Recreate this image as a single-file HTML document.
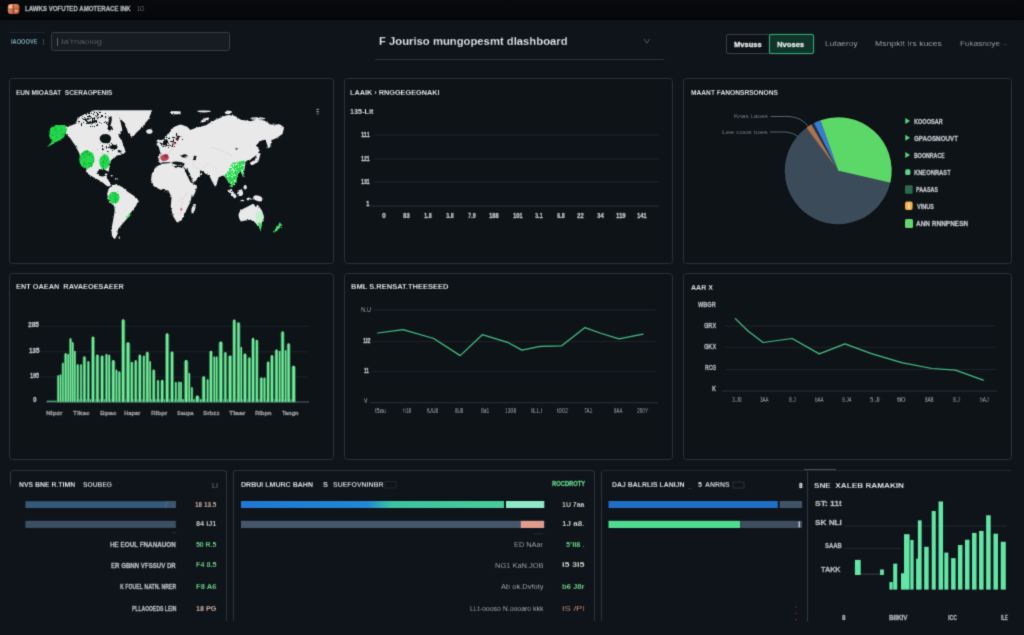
<!DOCTYPE html>
<html lang="en"><head><meta charset="utf-8"><title>Dashboard</title>
<style>
html,body{margin:0;padding:0;background:#0f141a;}
body{width:1024px;height:635px;overflow:hidden;font-family:"Liberation Sans",sans-serif;}
#root{position:relative;width:1024px;height:635px;overflow:hidden;background:#0f141a;}
#soft{background:#0f141a;position:absolute;left:-4px;top:-4px;width:1032px;height:643px;filter:url(#softblur);}
.abs{position:absolute;}
.t{position:absolute;white-space:pre;line-height:1;transform-origin:0 50%;font-family:"Liberation Sans",sans-serif;}
#topbar{position:absolute;left:0;top:0;width:1024px;height:20px;background:linear-gradient(#07090c,#06080b 80%,#040508);}
.panel{position:absolute;box-sizing:border-box;border:1px solid #29313a;border-radius:3.5px;background:#0e1318;}
.hl{position:absolute;height:1px;background:#20252c;}
.vl{position:absolute;width:1px;background:#2a2f37;}
.bar{position:absolute;height:7px;}
svg{position:absolute;left:0;top:0;overflow:visible;}

#in{position:absolute;left:4px;top:4px;width:1024px;height:635px;}
#texts{position:absolute;left:0;top:0;width:1024px;height:635px;filter:url(#softblur);}

</style></head>
<body>
<svg width="0" height="0" style="position:absolute"><defs><filter id="softblur" x="0" y="0" width="100%" height="100%" color-interpolation-filters="sRGB"><feConvolveMatrix order="3" kernelMatrix="0.0196 0.1008 0.0196 0.1008 0.5184 0.1008 0.0196 0.1008 0.0196" divisor="1" edgeMode="duplicate" preserveAlpha="true"/></filter></defs></svg>
<div id="root"><div id="soft"><div id="in">
<div id="topbar"></div>
<!-- logo -->
<svg width="1024" height="635" viewBox="0 0 1024 635" id="chrome">
  <defs>
    <linearGradient id="lg1" x1="0" y1="0" x2="1" y2="1"><stop offset="0" stop-color="#e9a884"/><stop offset="1" stop-color="#b8431e"/></linearGradient>
  </defs>
  <rect x="7.8" y="4" width="11.6" height="10" rx="3" fill="url(#lg1)"/>
  <rect x="12.9" y="4.6" width="1" height="8.8" fill="#6a2010" opacity=".6"/><circle cx="10.6" cy="7" r="1.7" fill="#f6d2b6" opacity=".8"/><circle cx="16.3" cy="10.8" r="1.6" fill="#f3c4a4" opacity=".7"/>
  <rect x="8.4" y="8.6" width="10.4" height="0.9" fill="#8a2c18" opacity=".45"/>
</svg>
<!-- header -->
<div class="abs" style="left:43px;top:39.3px;width:1px;height:5.6px;background:#3a424a;"></div>
<div class="abs" style="left:8.6px;top:32px;width:36.4px;height:1px;background:#1c242c;"></div>
<div class="abs" style="left:51px;top:31.5px;width:179px;height:19.5px;box-sizing:border-box;border:1px solid #343c44;border-radius:2.5px;background:#171c22;"></div>
<div class="abs" style="left:56.5px;top:37.5px;width:1px;height:8.5px;background:#5d636c;"></div>
<div class="abs" style="left:374.5px;top:58.7px;width:289.5px;height:1px;background:#2c3138;"></div>
<svg width="1024" height="635" viewBox="0 0 1024 635"><path d="M644.2 38.8 L646.9 43.2 L649.6 38.8" fill="none" stroke="#4d535b" stroke-width="1"/></svg>
<div class="abs" style="left:726px;top:33.5px;width:87.5px;height:20.5px;box-sizing:border-box;border:1px solid #3a4048;border-radius:2px;background:#0e1217;"></div>
<div class="abs" style="left:769px;top:33.5px;width:44.5px;height:20.5px;box-sizing:border-box;border:1px solid #2fa871;border-radius:2px;background:#11342a;box-shadow:0 0 2px #2fa87166;"></div>
<div class="abs" style="left:1003px;top:43.5px;width:4px;height:1px;background:#2a2f37;"></div>

<!-- panels row 1 -->
<div class="panel" style="left:9px;top:78px;width:324.5px;height:185.5px;"></div>
<div class="panel" style="left:343.5px;top:78px;width:329.5px;height:185.5px;"></div>
<div class="panel" style="left:683px;top:78px;width:329px;height:185.5px;"></div>
<!-- panels row 2 -->
<div class="panel" style="left:9px;top:272.6px;width:324.5px;height:187px;"></div>
<div class="panel" style="left:343.5px;top:272.6px;width:329.5px;height:187px;"></div>
<div class="panel" style="left:683px;top:272.6px;width:329px;height:187px;"></div>
<!-- row 3 -->
<div class="abs" style="left:10px;top:470.2px;width:216.7px;height:151px;box-sizing:border-box;border:1px solid #29313a;border-bottom:none;border-left:none;border-radius:3px 3px 0 0;background:transparent;"></div>
<div class="abs" style="left:10px;top:472px;width:1px;height:16px;background:linear-gradient(#333942,#333942 60%,rgba(51,57,66,0));"></div>
<div class="abs" style="left:233px;top:470.2px;width:361.5px;height:151px;box-sizing:border-box;border:1px solid #29313a;border-bottom:none;border-radius:3px 3px 0 0;background:transparent;"></div>
<div class="abs" style="left:600.5px;top:470.2px;width:410px;height:151px;box-sizing:border-box;border-top:1px solid #1f262e;border-left:1px solid #29313a;border-radius:3px 0 0 0;background:transparent;"></div>
<div class="abs" style="left:807px;top:471px;width:1px;height:150.5px;background:#2f353d;"></div>
<div class="abs" style="left:804px;top:469px;width:32px;height:1.4px;background:#4a5058;border-radius:1px;"></div>

<svg width="1024" height="635" viewBox="0 0 1024 635" id="map">
<defs><filter id="rough" x="-5%" y="-5%" width="110%" height="110%"><feTurbulence type="fractalNoise" baseFrequency="0.55" numOctaves="2" seed="7" result="n"/><feDisplacementMap in="SourceGraphic" in2="n" scale="2.6" xChannelSelector="R" yChannelSelector="G"/></filter>
<filter id="speck" x="0" y="0" width="100%" height="100%"><feTurbulence type="fractalNoise" baseFrequency="0.9" numOctaves="1" seed="3" result="n"/><feColorMatrix in="n" type="matrix" values="0 0 0 0 0  0 0 0 0 0  0 0 0 0 0  0 0 0 -20 8.6" result="a"/><feComposite in="SourceGraphic" in2="a" operator="in"/></filter>
<filter id="speck2" x="0" y="0" width="100%" height="100%"><feTurbulence type="fractalNoise" baseFrequency="0.8" numOctaves="1" seed="11" result="n"/><feColorMatrix in="n" type="matrix" values="0 0 0 0 0  0 0 0 0 0  0 0 0 0 0  0 0 0 -20 7.7" result="a"/><feComposite in="SourceGraphic" in2="a" operator="in"/></filter>
<clipPath id="mapclip"><rect x="40" y="110.2" width="260" height="140"/></clipPath></defs>
<g clip-path="url(#mapclip)"><g filter="url(#rough)">
<path d="M66.0 127.6 L76.2 123.6 L77.8 117.3 L87.2 113.4 L95.1 109.4 L114.0 109.4 L109.3 114.2 L114.0 117.3 L118.7 123.6 L120.3 131.5 L118.7 136.2 L121.9 140.9 L125.8 152.0 L121.9 154.3 L115.6 155.9 L110.9 160.6 L109.6 166.1 L108.7 171.8 L106.3 170.4 L105.5 175.6 L108.0 179.5 L110.9 184.3 L109.6 186.5 L106.1 185.0 L101.4 181.1 L95.1 177.2 L88.8 172.4 L85.7 167.7 L80.9 161.4 L79.4 153.5 L75.4 145.7 L69.9 137.8 L66.0 133.9 Z" fill="#e9e9ea" />
<path d="M107.9 109.5 L115.8 109.8 L120.2 120.1 L122.4 130.2 L119.2 134.0 L115.0 126.0 L110.0 118.0 Z" fill="#e9e9ea" />
<path d="M114.8 108.7 L152.6 108.7 L148.7 118.9 L142.4 126.8 L136.1 133.1 L132.1 137.8 L128.2 133.1 L125.0 123.6 L118.7 117.3 Z" fill="#e9e9ea" />
<ellipse cx="149.4" cy="131.5" rx="2.8" ry="1.9" fill="#e9e9ea" />
<ellipse cx="175.4" cy="112.6" rx="4.7" ry="1.4" fill="#e9e9ea" />
<ellipse cx="105.4" cy="138.6" rx="5.7" ry="4.7" fill="#0e1217" />
<ellipse cx="110.1" cy="128.3" rx="2.5" ry="2.2" fill="#0e1217" />
<ellipse cx="102.2" cy="172.8" rx="4.7" ry="3.8" fill="#0e1217" />
<ellipse cx="119.5" cy="151.2" rx="2.2" ry="1.3" fill="#0e1217" />
<ellipse cx="92.0" cy="122.0" rx="6.3" ry="1.3" fill="#0e1217" transform="rotate(-15 92.0 122.0)" />
<ellipse cx="87.2" cy="118.9" rx="3.9" ry="0.9" fill="#0e1217" transform="rotate(-10 87.2 118.9)" />
<ellipse cx="109.9" cy="122" rx="1.5" ry="6" fill="#0e1217" transform="rotate(12 109.9 122)"/>
<ellipse cx="113.5" cy="147" rx="4" ry="2.2" fill="#0e1217"/>
<path d="M50.2 128.3 L55.7 124.9 L65.2 124.9 L67.1 129.9 L63.6 137.8 L55.7 142.5 L47.1 146.9 L52.6 140.9 L49.1 136.2 Z" fill="#25d94e" />
<ellipse cx="86.9" cy="159.5" rx="7.6" ry="9.1" fill="#25d94e" />
<ellipse cx="104.6" cy="161.7" rx="5.2" ry="7.4" fill="#25d94e" />
<ellipse cx="85.7" cy="152.0" rx="2.2" ry="1.6" fill="#14b83a" />
<path d="M85.7 170.2 L90.4 167.9 L95.1 171.8 L97.5 175.7 L103.0 177.3 L107.7 181.3 L110.9 184.9 L107.7 186.5 L103.0 182.8 L98.3 179.7 L92.0 176.5 L87.2 173.4 Z" fill="#e9e9ea" />
<ellipse cx="106.1" cy="174.5" rx="1.4" ry="1.1" fill="#e9e9ea" />
<ellipse cx="116.4" cy="178.9" rx="1.4" ry="0.9" fill="#e9e9ea" />
<ellipse cx="111.7" cy="175.7" rx="1.1" ry="0.8" fill="#e9e9ea" />
<path d="M107.7 191.5 L110.9 186.0 L115.6 184.4 L121.9 186.8 L127.4 191.5 L134.5 196.2 L138.4 200.2 L136.1 205.7 L131.3 212.0 L127.4 218.3 L121.9 224.6 L118.0 229.3 L116.9 235.6 L114.8 239.2 L111.7 235.6 L111.7 227.7 L113.2 219.8 L114.8 210.4 L114.0 205.7 L109.3 201.7 L107.4 196.2 Z" fill="#e9e9ea" />
<ellipse cx="114.0" cy="197.8" rx="5.5" ry="6.0" fill="#25d94e" />
<path d="M125.8 217.0 L130.9 211.7 L130.1 216.1 L126.6 218.9 Z" fill="#5fe07e" />
<ellipse cx="119.2" cy="237.5" rx="0.5" ry="1.3" fill="#e9e9ea" />
<path d="M158.1 157.5 L160.5 153.5 L158.9 147.2 L156.5 144.1 L158.9 140.2 L163.6 139.4 L169.1 133.1 L173.9 126.8 L180.9 124.4 L187.2 126.8 L190.4 129.9 L196.7 127.6 L206.1 125.2 L210.9 122.0 L217.2 118.9 L223.5 116.5 L228.2 115.0 L234.5 115.7 L240.8 119.7 L250.2 121.3 L256.5 119.7 L264.4 120.5 L270.7 124.4 L280.2 124.4 L284.1 127.6 L282.5 133.9 L277.0 137.8 L271.5 140.2 L269.1 147.2 L266.8 144.1 L266.0 139.4 L259.7 140.9 L256.5 145.7 L259.7 150.4 L256.5 155.1 L250.2 159.8 L245.5 161.4 L244.7 167.7 L243.1 177.2 L240.8 170.9 L237.6 174.0 L234.5 185.0 L231.3 187.4 L226.6 178.7 L223.5 175.6 L218.7 177.2 L215.6 187.4 L212.4 181.9 L209.3 175.6 L203.0 172.4 L198.3 177.2 L194.3 182.7 L192.0 181.9 L188.8 175.6 L185.7 169.3 L182.5 165.4 L173.9 166.1 L169.9 162.2 L163.6 162.2 L159.7 163.0 Z" fill="#e9e9ea" />
<ellipse cx="175.4" cy="112.9" rx="5.5" ry="1.4" fill="#e9e9ea" />
<ellipse cx="203.8" cy="111.3" rx="7.1" ry="1.1" fill="#e9e9ea" />
<ellipse cx="204.6" cy="120.2" rx="5.0" ry="1.4" fill="#e9e9ea" transform="rotate(-25 204.6 120.2)" />
<ellipse cx="228.2" cy="112.3" rx="3.5" ry="1.9" fill="#e9e9ea" />
<ellipse cx="257.3" cy="118.6" rx="7.1" ry="1.4" fill="#e9e9ea" />
<ellipse cx="149.4" cy="131.5" rx="3.1" ry="2.2" fill="#e9e9ea" />
<path d="M257.3 152.8 L260.6 153.5 L258.4 161.4 L252.1 165.5 L249.3 163.0 L255.0 159.8 Z" fill="#e9e9ea" />
<path d="M267.6 139.4 L271.7 138.6 L270.1 147.2 L267.6 148.2 Z" fill="#e9e9ea" />
<ellipse cx="158.6" cy="141.7" rx="1.9" ry="2.2" fill="#e9e9ea" />
<path d="M151.8 174.0 L155.7 166.9 L162.0 163.8 L170.7 163.0 L175.4 167.7 L183.3 166.9 L186.5 174.0 L190.4 181.9 L197.0 185.8 L195.4 192.1 L192.8 197.6 L192.0 194.2 L190.4 202.0 L185.7 211.5 L181.7 220.2 L177.0 222.5 L173.1 216.2 L170.7 206.8 L171.5 197.3 L168.3 190.6 L160.5 189.8 L154.2 186.6 L151.0 180.3 Z" fill="#e9e9ea" />
<ellipse cx="193.5" cy="208.7" rx="1.7" ry="4.7" fill="#e9e9ea" transform="rotate(15 193.5 208.7)" />
<ellipse cx="178.6" cy="163.5" rx="6.6" ry="1.7" fill="#0e1217" transform="rotate(8 178.6 163.5)" />
<ellipse cx="184.4" cy="155.9" rx="3.1" ry="1.7" fill="#0e1217" />
<ellipse cx="194.8" cy="158.0" rx="1.3" ry="2.5" fill="#0e1217" />
<path d="M184.9 169.3 L187.2 168.5 L192.8 181.1 L191.2 182.7 Z" fill="#0e1217" />
<ellipse cx="202.2" cy="172.1" rx="2.8" ry="0.9" fill="#0e1217" transform="rotate(30 202.2 172.1)" />
<ellipse cx="165.2" cy="142.5" rx="2.2" ry="3.5" fill="#0e1217" transform="rotate(35 165.2 142.5)" />
<ellipse cx="177.5" cy="137.8" rx="1.6" ry="2.5" fill="#0e1217" transform="rotate(30 177.5 137.8)" />
<ellipse cx="236.9" cy="149.1" rx="1.6" ry="0.8" fill="#3a2a30" />
<path d="M227.4 190.2 L230.6 189.1 L237.3 196.5 L234.5 198.6 Z" fill="#e9e9ea" />
<ellipse cx="240.3" cy="192.9" rx="2.7" ry="3.1" fill="#e9e9ea" />
<ellipse cx="245.2" cy="187.2" rx="1.6" ry="2.2" fill="#e9e9ea" />
<ellipse cx="248.7" cy="198.9" rx="2.2" ry="1.4" fill="#e9e9ea" />
<ellipse cx="257.8" cy="198.3" rx="4.7" ry="2.7" fill="#e9e9ea" transform="rotate(20 257.8 198.3)" />
<ellipse cx="242.4" cy="200.5" rx="1.9" ry="0.8" fill="#e9e9ea" />
<path d="M238.4 213.9 L240.8 209.9 L248.7 206.0 L253.4 203.6 L255.7 207.1 L258.1 205.2 L262.0 210.7 L264.1 217.0 L261.6 223.3 L260.6 229.6 L258.1 226.0 L255.0 222.5 L250.2 219.4 L245.5 220.6 L240.8 221.6 L238.9 217.8 Z" fill="#e9e9ea" />
<path d="M255.7 211.5 L261.3 211.5 L264.1 217.0 L261.6 223.3 L260.9 230.1 L258.4 226.5 L255.7 221.7 Z" fill="#c4f0cd" />
<path d="M258.1 222.5 L261.6 223.3 L260.9 230.1 L258.4 226.5 Z" fill="#3ddb62" />
<path d="M279.8 222.2 L282.0 225.4 L277.3 230.4 L273.5 232.9 L275.4 228.8 L278.3 225.0 Z" fill="#4fe070" />
<path d="M232.1 163.0 L244.7 160.6 L243.9 167.7 L243.1 177.2 L240.8 170.9 L238.4 173.2 L235.3 184.3 L231.3 187.4 L227.4 179.5 L224.3 175.6 L229.0 170.9 L230.6 166.1 Z" fill="#25d94e" />
<g filter="url(#speck)">
<ellipse cx="86.9" cy="159.5" rx="7.2" ry="8.8" fill="#0fae35" />
<ellipse cx="104.6" cy="161.7" rx="4.9" ry="7.1" fill="#0fae35" />
<path d="M50.2 128.3 L55.7 124.9 L65.2 124.9 L67.1 129.9 L63.6 137.8 L55.7 142.5 L47.1 146.9 L52.6 140.9 L49.1 136.2 Z" fill="#10b838" />
<ellipse cx="114.0" cy="197.8" rx="5.2" ry="5.7" fill="#0fae35" />
<path d="M232.1 163.0 L244.7 160.6 L243.9 167.7 L243.1 177.2 L240.8 170.9 L238.4 173.2 L235.3 184.3 L231.3 187.4 L227.4 179.5 L224.3 175.6 L229.0 170.9 L230.6 166.1 Z" fill="#d9fbe0" />
</g>
<g filter="url(#speck)">
<ellipse cx="90.4" cy="117.6" rx="16.5" ry="6.0" fill="#0e1217" transform="rotate(-8 90.4 117.6)" />
<ellipse cx="167.6" cy="141.3" rx="8.7" ry="6.0" fill="#0e1217" />
</g>
<g filter="url(#speck2)">
<ellipse cx="92.0" cy="119.7" rx="18.9" ry="7.9" fill="#0e1217" />
<ellipse cx="169.9" cy="140.2" rx="13.4" ry="7.9" fill="#0e1217" />
<ellipse cx="106.1" cy="147.2" rx="9.4" ry="6.3" fill="#0e1217" />
</g>
</g>
<ellipse cx="164.6" cy="157.6" rx="4.3" ry="3.3" fill="#b8283c" transform="rotate(-20 164.6 157.6)" opacity=".85"/>
<ellipse cx="166.0" cy="156.1" rx="1.9" ry="1.6" fill="#8a1f2e" opacity=".7"/>
<ellipse cx="173.4" cy="143.6" rx="1.6" ry="1.7" fill="#b8283c" opacity=".65"/>
<ellipse cx="177.8" cy="138.3" rx="1.3" ry="1.9" fill="#6a1a26" transform="rotate(30 177.8 138.3)" opacity=".8"/>
<ellipse cx="181.3" cy="209.3" rx="0.9" ry="1.4" fill="#b8283c" opacity=".7"/>
<path d="M210.9 147.2 L221.9 150.4 L232.1 155.9" fill="none" stroke="#d0566a" stroke-width="0.5" stroke-dasharray="0.6 1" opacity="0.6"/>
<path d="M192.0 159.8 L194.3 167.7 L201.4 169.3 L207.7 163.0" fill="none" stroke="#d0566a" stroke-width="0.5" stroke-dasharray="0.6 1" opacity="0.6"/>
<path d="M207.7 163.0 L215.6 167.7 L217.2 172.4" fill="none" stroke="#e08a96" stroke-width="0.5" stroke-dasharray="0.6 1" opacity="0.5"/>
<path d="M168.3 153.5 L173.9 147.2 L177.8 142.5" fill="none" stroke="#c0364a" stroke-width="0.6" stroke-dasharray="0.6 1" opacity="0.7"/>
<path d="M187.2 192.6 L183.3 198.9 L181.3 206.8 L180.6 213.9" fill="none" stroke="#d0566a" stroke-width="0.6" stroke-dasharray="0.6 1" opacity="0.7"/>
<path d="M181.3 197.3 L177.8 202.0" fill="none" stroke="#d0566a" stroke-width="0.5" stroke-dasharray="0.6 1" opacity="0.6"/>
</g>
<rect x="316.4" y="108.8" width="2.6" height="1.2" fill="#8b9097"/><rect x="316.4" y="111" width="2.6" height="1.2" fill="#8b9097"/><rect x="316.8" y="113.2" width="2" height="1.2" fill="#6b7077"/>
</svg>
<svg width="1024" height="635" viewBox="0 0 1024 635" id="charts">
<defs>
<linearGradient id="b8" x1="0" y1="0" x2="1" y2="0"><stop offset="0" stop-color="#1f78d2"/><stop offset=".48" stop-color="#2287d4"/><stop offset=".57" stop-color="#3cc3a2"/><stop offset="1" stop-color="#48cc98"/></linearGradient>
</defs>
<rect x="374" y="134.5" width="285" height="1" fill="#1f242b"/>
<rect x="374" y="158.5" width="285" height="1" fill="#1f242b"/>
<rect x="374" y="181.5" width="285" height="1" fill="#1f242b"/>
<rect x="371" y="205.6" width="288" height="1" fill="#2a3038"/>
<circle cx="838.2" cy="170.7" r="54.3" fill="#0a0c10"/>
<path d="M838.20 170.70 L890.33 182.73 A53.5 53.5 0 1 1 806.38 127.69 Z" fill="#3c4b5a"/>
<path d="M838.20 170.70 L806.38 127.69 A53.5 53.5 0 0 1 811.45 124.37 Z" fill="#a9744e"/>
<path d="M838.20 170.70 L811.45 124.37 A53.5 53.5 0 0 1 813.91 123.03 Z" fill="#22344a"/>
<path d="M838.20 170.70 L813.91 123.03 A53.5 53.5 0 0 1 820.34 120.27 Z" fill="#3a7ad6"/>
<path d="M838.20 170.70 L820.34 120.27 A53.5 53.5 0 0 1 890.33 182.73 Z" fill="#5bd868"/>
<path d="M770.7 116.5 H789 Q801 117 808.5 126.6" fill="none" stroke="#646a72" stroke-width="0.9"/>
<path d="M770 132 H786 Q793 132.5 798 136.5" fill="none" stroke="#646a72" stroke-width="0.9"/>
<path d="M905.3 118 L910 121 L905.3 124 Z" fill="#5cd683"/>
<path d="M905.3 134.8 L910 137.8 L905.3 140.8 Z" fill="#5cd683"/>
<path d="M905.3 152 L910 155 L905.3 158 Z" fill="#5cd683"/>
<rect x="905.2" y="169.2" width="5.2" height="5.8" rx="1.6" fill="#5cd683"/>
<rect x="905" y="185.2" width="7.6" height="8.6" rx="1" fill="#2a6b50"/>
<rect x="905" y="201.5" width="7.6" height="8.6" rx="2" fill="#f2b44a"/>
<rect x="908" y="203.3" width="1.6" height="5" fill="#fbe6b8"/>
<rect x="905" y="219" width="8" height="9" rx="1.5" fill="#63d673"/>
<rect x="40" y="325.8" width="268" height="1" fill="#1f242b"/>
<rect x="40" y="351.3" width="268" height="1" fill="#1f242b"/>
<rect x="40" y="376.6" width="268" height="1" fill="#1f242b"/>
<rect x="46" y="401.4" width="263" height="1.2" fill="#4a525c"/>
<rect x="57" y="399.2" width="238.7" height="3" fill="#63dc8e"/>
<rect x="47" y="400.6" width="10" height="1.4" fill="#3f9e68"/>
<rect x="56.81" y="376.28" width="2.76" height="25.62" fill="#246a44"/>
<rect x="59.17" y="375.49" width="2.76" height="26.41" fill="#246a44"/>
<rect x="61.53" y="363.68" width="2.76" height="38.22" fill="#246a44"/>
<rect x="63.89" y="354.23" width="3.55" height="47.67" fill="#246a44"/>
<rect x="67.04" y="355.02" width="2.29" height="46.88" fill="#246a44"/>
<rect x="68.93" y="339.27" width="3.23" height="62.63" fill="#246a44"/>
<rect x="71.45" y="343.21" width="2.60" height="58.69" fill="#246a44"/>
<rect x="73.66" y="351.87" width="2.45" height="50.03" fill="#246a44"/>
<rect x="76.18" y="365.26" width="3.08" height="36.64" fill="#246a44"/>
<rect x="79.64" y="365.26" width="2.76" height="36.64" fill="#246a44"/>
<rect x="82.48" y="357.38" width="3.86" height="44.52" fill="#246a44"/>
<rect x="86.73" y="362.11" width="3.23" height="39.79" fill="#246a44"/>
<rect x="90.98" y="337.70" width="4.02" height="64.20" fill="#246a44"/>
<rect x="95.39" y="355.81" width="4.02" height="46.09" fill="#246a44"/>
<rect x="100.11" y="356.59" width="4.02" height="45.31" fill="#246a44"/>
<rect x="104.84" y="355.02" width="3.23" height="46.88" fill="#246a44"/>
<rect x="107.67" y="355.81" width="3.08" height="46.09" fill="#246a44"/>
<rect x="111.14" y="361.32" width="4.34" height="40.58" fill="#246a44"/>
<rect x="115.08" y="370.77" width="2.76" height="31.13" fill="#246a44"/>
<rect x="117.75" y="372.34" width="3.23" height="29.56" fill="#246a44"/>
<rect x="121.06" y="320.37" width="4.34" height="81.53" fill="#246a44"/>
<rect x="125.63" y="343.52" width="4.81" height="58.38" fill="#246a44"/>
<rect x="130.04" y="362.89" width="3.55" height="39.01" fill="#246a44"/>
<rect x="133.97" y="361.32" width="3.55" height="40.58" fill="#246a44"/>
<rect x="137.91" y="355.81" width="3.86" height="46.09" fill="#246a44"/>
<rect x="142.32" y="356.59" width="3.08" height="45.31" fill="#246a44"/>
<rect x="145.31" y="352.97" width="4.02" height="48.93" fill="#246a44"/>
<rect x="148.93" y="362.11" width="2.29" height="39.79" fill="#246a44"/>
<rect x="151.77" y="370.77" width="3.86" height="31.13" fill="#246a44"/>
<rect x="156.49" y="381.00" width="3.08" height="20.90" fill="#246a44"/>
<rect x="160.43" y="381.00" width="3.08" height="20.90" fill="#246a44"/>
<rect x="160.59" y="381.00" width="3.55" height="20.90" fill="#246a44"/>
<rect x="165.00" y="334.55" width="4.34" height="67.35" fill="#246a44"/>
<rect x="170.04" y="352.66" width="4.02" height="49.24" fill="#246a44"/>
<rect x="174.45" y="382.89" width="2.76" height="19.01" fill="#246a44"/>
<rect x="177.60" y="382.58" width="2.76" height="19.32" fill="#246a44"/>
<rect x="179.96" y="382.89" width="2.29" height="19.01" fill="#246a44"/>
<rect x="183.74" y="361.32" width="4.81" height="40.58" fill="#246a44"/>
<rect x="188.15" y="373.92" width="2.29" height="27.98" fill="#246a44"/>
<rect x="190.51" y="388.09" width="2.76" height="13.81" fill="#246a44"/>
<rect x="194.76" y="396.75" width="5.12" height="5.15" fill="#246a44"/>
<rect x="201.53" y="377.38" width="4.34" height="24.52" fill="#246a44"/>
<rect x="206.26" y="380.22" width="2.76" height="21.68" fill="#246a44"/>
<rect x="208.93" y="351.87" width="4.02" height="50.03" fill="#246a44"/>
<rect x="213.03" y="357.38" width="2.60" height="44.52" fill="#246a44"/>
<rect x="215.23" y="357.38" width="2.92" height="44.52" fill="#246a44"/>
<rect x="218.38" y="342.74" width="4.81" height="59.16" fill="#246a44"/>
<rect x="223.58" y="353.13" width="3.55" height="48.77" fill="#246a44"/>
<rect x="227.83" y="356.59" width="4.49" height="45.31" fill="#246a44"/>
<rect x="232.24" y="320.69" width="4.02" height="81.21" fill="#246a44"/>
<rect x="236.49" y="323.52" width="4.02" height="78.38" fill="#246a44"/>
<rect x="240.11" y="347.93" width="2.29" height="53.97" fill="#246a44"/>
<rect x="242.79" y="354.70" width="4.34" height="47.20" fill="#246a44"/>
<rect x="247.52" y="358.48" width="3.71" height="43.42" fill="#246a44"/>
<rect x="251.14" y="338.96" width="3.86" height="62.94" fill="#246a44"/>
<rect x="255.08" y="340.85" width="3.55" height="61.05" fill="#246a44"/>
<rect x="259.33" y="378.64" width="4.02" height="23.26" fill="#246a44"/>
<rect x="262.95" y="378.64" width="3.08" height="23.26" fill="#246a44"/>
<rect x="266.26" y="362.58" width="3.71" height="39.32" fill="#246a44"/>
<rect x="270.04" y="356.28" width="3.86" height="45.62" fill="#246a44"/>
<rect x="274.45" y="350.77" width="4.18" height="51.13" fill="#246a44"/>
<rect x="278.70" y="351.87" width="1.97" height="50.03" fill="#246a44"/>
<rect x="280.59" y="332.50" width="4.02" height="69.40" fill="#246a44"/>
<rect x="284.68" y="351.08" width="1.97" height="50.82" fill="#246a44"/>
<rect x="286.57" y="344.47" width="4.02" height="57.43" fill="#246a44"/>
<rect x="291.30" y="366.83" width="4.65" height="35.07" fill="#246a44"/>
<rect x="57.44" y="375.08" width="1.50" height="26.82" rx="0.9" fill="#74ea9a"/>
<rect x="59.80" y="374.29" width="1.50" height="27.61" rx="0.9" fill="#74ea9a"/>
<rect x="62.16" y="362.48" width="1.50" height="39.42" rx="0.9" fill="#74ea9a"/>
<rect x="64.69" y="353.03" width="1.95" height="48.87" rx="0.9" fill="#74ea9a"/>
<rect x="67.44" y="353.82" width="1.50" height="48.08" rx="0.9" fill="#74ea9a"/>
<rect x="69.67" y="338.07" width="1.76" height="63.83" rx="0.9" fill="#74ea9a"/>
<rect x="72.01" y="342.01" width="1.50" height="59.89" rx="0.9" fill="#74ea9a"/>
<rect x="74.13" y="350.67" width="1.50" height="51.23" rx="0.9" fill="#74ea9a"/>
<rect x="76.89" y="364.06" width="1.66" height="37.84" rx="0.9" fill="#74ea9a"/>
<rect x="80.27" y="364.06" width="1.50" height="37.84" rx="0.9" fill="#74ea9a"/>
<rect x="83.34" y="356.18" width="2.15" height="45.72" rx="0.9" fill="#74ea9a"/>
<rect x="87.47" y="360.91" width="1.76" height="40.99" rx="0.9" fill="#74ea9a"/>
<rect x="91.87" y="336.50" width="2.25" height="65.40" rx="0.9" fill="#74ea9a"/>
<rect x="96.28" y="354.61" width="2.25" height="47.29" rx="0.9" fill="#74ea9a"/>
<rect x="101.00" y="355.39" width="2.25" height="46.51" rx="0.9" fill="#74ea9a"/>
<rect x="105.58" y="353.82" width="1.76" height="48.08" rx="0.9" fill="#74ea9a"/>
<rect x="108.38" y="354.61" width="1.66" height="47.29" rx="0.9" fill="#74ea9a"/>
<rect x="112.09" y="360.12" width="2.44" height="41.78" rx="0.9" fill="#74ea9a"/>
<rect x="115.71" y="369.57" width="1.50" height="32.33" rx="0.9" fill="#74ea9a"/>
<rect x="118.49" y="371.14" width="1.76" height="30.76" rx="0.9" fill="#74ea9a"/>
<rect x="122.01" y="319.17" width="2.44" height="82.73" rx="0.9" fill="#74ea9a"/>
<rect x="126.68" y="342.32" width="2.70" height="59.58" rx="0.9" fill="#74ea9a"/>
<rect x="130.83" y="361.69" width="1.95" height="40.21" rx="0.9" fill="#74ea9a"/>
<rect x="134.77" y="360.12" width="1.95" height="41.78" rx="0.9" fill="#74ea9a"/>
<rect x="138.77" y="354.61" width="2.15" height="47.29" rx="0.9" fill="#74ea9a"/>
<rect x="143.03" y="355.39" width="1.66" height="46.51" rx="0.9" fill="#74ea9a"/>
<rect x="146.20" y="351.77" width="2.25" height="50.13" rx="0.9" fill="#74ea9a"/>
<rect x="149.33" y="360.91" width="1.50" height="40.99" rx="0.9" fill="#74ea9a"/>
<rect x="152.63" y="369.57" width="2.15" height="32.33" rx="0.9" fill="#74ea9a"/>
<rect x="157.20" y="379.80" width="1.66" height="22.10" rx="0.9" fill="#74ea9a"/>
<rect x="161.14" y="379.80" width="1.66" height="22.10" rx="0.9" fill="#74ea9a"/>
<rect x="161.39" y="379.80" width="1.95" height="22.10" rx="0.9" fill="#74ea9a"/>
<rect x="165.94" y="333.35" width="2.44" height="68.55" rx="0.9" fill="#74ea9a"/>
<rect x="170.92" y="351.46" width="2.25" height="50.44" rx="0.9" fill="#74ea9a"/>
<rect x="175.08" y="381.69" width="1.50" height="20.21" rx="0.9" fill="#74ea9a"/>
<rect x="178.23" y="381.38" width="1.50" height="20.52" rx="0.9" fill="#74ea9a"/>
<rect x="180.35" y="381.69" width="1.50" height="20.21" rx="0.9" fill="#74ea9a"/>
<rect x="184.79" y="360.12" width="2.70" height="41.78" rx="0.9" fill="#74ea9a"/>
<rect x="188.54" y="372.72" width="1.50" height="29.18" rx="0.9" fill="#74ea9a"/>
<rect x="191.14" y="386.89" width="1.50" height="15.01" rx="0.9" fill="#74ea9a"/>
<rect x="195.97" y="395.55" width="2.70" height="6.35" rx="0.9" fill="#74ea9a"/>
<rect x="202.48" y="376.18" width="2.44" height="25.72" rx="0.9" fill="#74ea9a"/>
<rect x="206.89" y="379.02" width="1.50" height="22.88" rx="0.9" fill="#74ea9a"/>
<rect x="209.82" y="350.67" width="2.25" height="51.23" rx="0.9" fill="#74ea9a"/>
<rect x="213.58" y="356.18" width="1.50" height="45.72" rx="0.9" fill="#74ea9a"/>
<rect x="215.91" y="356.18" width="1.56" height="45.72" rx="0.9" fill="#74ea9a"/>
<rect x="219.44" y="341.54" width="2.70" height="60.36" rx="0.9" fill="#74ea9a"/>
<rect x="224.38" y="351.93" width="1.95" height="49.97" rx="0.9" fill="#74ea9a"/>
<rect x="228.81" y="355.39" width="2.54" height="46.51" rx="0.9" fill="#74ea9a"/>
<rect x="233.13" y="319.49" width="2.25" height="82.41" rx="0.9" fill="#74ea9a"/>
<rect x="237.38" y="322.32" width="2.25" height="79.58" rx="0.9" fill="#74ea9a"/>
<rect x="240.51" y="346.73" width="1.50" height="55.17" rx="0.9" fill="#74ea9a"/>
<rect x="243.74" y="353.50" width="2.44" height="48.40" rx="0.9" fill="#74ea9a"/>
<rect x="248.34" y="357.28" width="2.05" height="44.62" rx="0.9" fill="#74ea9a"/>
<rect x="252.00" y="337.76" width="2.15" height="64.14" rx="0.9" fill="#74ea9a"/>
<rect x="255.87" y="339.65" width="1.95" height="62.25" rx="0.9" fill="#74ea9a"/>
<rect x="260.22" y="377.44" width="2.25" height="24.46" rx="0.9" fill="#74ea9a"/>
<rect x="263.66" y="377.44" width="1.66" height="24.46" rx="0.9" fill="#74ea9a"/>
<rect x="267.09" y="361.38" width="2.05" height="40.52" rx="0.9" fill="#74ea9a"/>
<rect x="270.89" y="355.08" width="2.15" height="46.82" rx="0.9" fill="#74ea9a"/>
<rect x="275.36" y="349.57" width="2.34" height="52.33" rx="0.9" fill="#74ea9a"/>
<rect x="278.94" y="350.67" width="1.50" height="51.23" rx="0.9" fill="#74ea9a"/>
<rect x="281.48" y="331.30" width="2.25" height="70.60" rx="0.9" fill="#74ea9a"/>
<rect x="284.92" y="349.88" width="1.50" height="52.02" rx="0.9" fill="#74ea9a"/>
<rect x="287.46" y="343.27" width="2.25" height="58.63" rx="0.9" fill="#74ea9a"/>
<rect x="292.30" y="365.63" width="2.64" height="36.27" rx="0.9" fill="#74ea9a"/>
<rect x="372.7" y="309.5" width="283" height="1" fill="#1f242b"/>
<rect x="372.7" y="341.1" width="283" height="1" fill="#1f242b"/>
<rect x="372.7" y="370.8" width="283" height="1" fill="#1f242b"/>
<rect x="370" y="402.2" width="288" height="1" fill="#2a3038"/>
<polyline points="377.8,333 403,329.7 433.7,338.5 460.2,355.6 482.3,334.7 507.5,342.3 521.9,350.1 540.3,346.3 561.7,345.8 585,327.6 600,333 619,338.8 643,334.1" fill="none" stroke="#42c081" stroke-width="1.25" stroke-linejoin="round" stroke-linecap="round"/>
<rect x="725.3" y="325.5" width="270" height="1" fill="#1f242b"/>
<rect x="725.3" y="346.8" width="270" height="1" fill="#1f242b"/>
<rect x="725.3" y="369.0" width="270" height="1" fill="#1f242b"/>
<rect x="722" y="390.5" width="275" height="1" fill="#2a3038"/>
<polyline points="735.4,318.6 748,331 763.1,342.5 792.1,338.5 819.3,353.9 845,343.8 871.4,353.6 901.7,362.7 932,368.5 955.4,370.1 983.3,380.2" fill="none" stroke="#42c081" stroke-width="1.25" stroke-linejoin="round" stroke-linecap="round"/>
<rect x="25.4" y="501.2" width="150.4" height="6.8" fill="#36587a"/>
<rect x="166.5" y="501.2" width="9.3" height="6.8" fill="#3d566d"/>
<rect x="165.8" y="501.2" width="0.8" height="6.8" fill="#4a6f94"/>
<rect x="25.4" y="520.8" width="150.4" height="7.1" fill="#3c5064"/>
<rect x="172" y="532.3" width="4" height="1" fill="#2c323a"/>
<rect x="241" y="501" width="263" height="7" fill="url(#b8)"/>
<rect x="506" y="501" width="38.3" height="7" fill="#8ee9c5"/>
<rect x="241" y="520.8" width="280" height="7.2" fill="#43566a"/>
<rect x="520.8" y="520.8" width="23.4" height="7.2" fill="#e19b8b"/>
<rect x="534" y="533.3" width="9" height="1" fill="#262b33"/>
<rect x="385" y="481.5" width="11" height="6.5" fill="none" stroke="#20252c" stroke-width="1"/>
<rect x="608.5" y="501" width="169.3" height="7" fill="#1f6fc4"/>
<rect x="779.6" y="501" width="22.4" height="7" fill="#3e5468"/>
<rect x="608.5" y="520.8" width="131.7" height="7.2" fill="#4fdc91"/>
<rect x="740.2" y="520.8" width="61.8" height="7.2" fill="#3e4e5e"/>
<rect x="798.6" y="521.4" width="1.3" height="6" fill="#cfd3d7"/>
<rect x="733" y="482" width="11" height="6" fill="none" stroke="#2a2f37" stroke-width="1"/>
<rect x="795.4" y="606.5" width="1.3" height="1.3" fill="#8a2436"/>
<rect x="795.4" y="612.8" width="1.3" height="1.3" fill="#8a2436"/>
<rect x="795.4" y="619" width="1.3" height="1.3" fill="#8a2436"/>
<rect x="843.6" y="525.6" width="163" height="1" fill="#222830"/>
<rect x="843.6" y="548" width="58" height="1" fill="#222830"/>
<rect x="860" y="573.6" width="21" height="1" fill="#39414a"/>
<rect x="854.90" y="559.89" width="5.79" height="15.11" fill="#62e6a6"/>
<rect x="880.09" y="569.46" width="3.78" height="5.54" fill="#62e6a6"/>
<rect x="889.41" y="582.05" width="3.27" height="7.56" fill="#62e6a6"/>
<rect x="893.19" y="563.66" width="4.03" height="25.94" fill="#62e6a6"/>
<rect x="901.00" y="573.24" width="3.02" height="16.37" fill="#62e6a6"/>
<rect x="904.02" y="534.19" width="5.54" height="55.42" fill="#62e6a6"/>
<rect x="910.32" y="539.99" width="3.27" height="49.62" fill="#62e6a6"/>
<rect x="916.11" y="558.63" width="2.52" height="30.98" fill="#62e6a6"/>
<rect x="917.87" y="520.34" width="3.78" height="69.27" fill="#62e6a6"/>
<rect x="924.17" y="546.79" width="4.53" height="42.82" fill="#62e6a6"/>
<rect x="931.73" y="511.02" width="4.03" height="78.59" fill="#62e6a6"/>
<rect x="938.53" y="501.45" width="4.53" height="88.16" fill="#62e6a6"/>
<rect x="944.32" y="552.58" width="4.03" height="37.03" fill="#62e6a6"/>
<rect x="951.12" y="558.12" width="4.53" height="31.49" fill="#62e6a6"/>
<rect x="957.92" y="545.03" width="4.53" height="44.58" fill="#62e6a6"/>
<rect x="964.98" y="539.74" width="4.53" height="49.87" fill="#62e6a6"/>
<rect x="972.03" y="532.93" width="4.53" height="56.68" fill="#62e6a6"/>
<rect x="979.08" y="530.92" width="4.53" height="58.69" fill="#62e6a6"/>
<rect x="986.14" y="515.30" width="4.53" height="74.31" fill="#62e6a6"/>
<rect x="993.44" y="533.69" width="4.53" height="55.92" fill="#62e6a6"/>
<rect x="1000.75" y="541.75" width="5.04" height="47.86" fill="#62e6a6"/>
</svg>
<div id="texts">
<span class="t" id="t0" style="left:25.20px;top:5.75px;font-size:6.3px;font-weight:700;color:#b4b8bc;-webkit-text-stroke:.3px;transform:scaleX(0.968);">LAWKS VOFUTED AMOTERACE INK</span>
<span class="t" id="t1" style="left:136.50px;top:5.75px;font-size:6.3px;font-weight:400;color:#8e9298;transform:scaleX(0.845);">1O</span>
<span class="t" id="t2" style="left:11.30px;top:37.80px;font-size:7.2px;font-weight:700;color:#84b2c3;transform:scaleX(0.790);">IAOOOVE</span>
<span class="t" id="t3" style="left:61.00px;top:38.20px;font-size:7px;font-weight:400;color:#626871;transform:scaleX(1.333);">Ia’rnaoiog</span>
<span class="t" id="t4" style="left:379.40px;top:36.30px;font-size:11px;font-weight:700;color:#e2e4e6;transform:scaleX(1.025);">F Jouriso mungopesmt dlashboard</span>
<span class="t" id="t5" style="left:734.20px;top:40.50px;font-size:7px;font-weight:700;color:#e6e8ea;-webkit-text-stroke:.3px;transform:scaleX(1.078);">Mvsuss</span>
<span class="t" id="t6" style="left:776.80px;top:40.50px;font-size:7px;font-weight:700;color:#dfeee6;-webkit-text-stroke:.3px;transform:scaleX(1.092);">Nvoses</span>
<span class="t" id="t7" style="left:825.40px;top:40.05px;font-size:7.5px;font-weight:400;color:#a4a8ae;transform:scaleX(1.117);">Lutaeroy</span>
<span class="t" id="t8" style="left:875.00px;top:40.05px;font-size:7.5px;font-weight:400;color:#a4a8ae;transform:scaleX(1.153);">Msnpklt Irs kuces</span>
<span class="t" id="t9" style="left:960.00px;top:40.05px;font-size:7.5px;font-weight:400;color:#a4a8ae;transform:scaleX(1.090);">Fukasnoye</span>
<span class="t" id="t10" style="left:16.40px;top:88.70px;font-size:7.6px;font-weight:700;color:#e6e8ea;transform:scaleX(0.860);">EUN MIOASAT  SCERAGPENIS</span>
<span class="t" id="t11" style="left:350.00px;top:88.80px;font-size:7.6px;font-weight:700;color:#e6e8ea;transform:scaleX(0.960);">LAAIK › RNGGEGEGNAKI</span>
<span class="t" id="t12" style="left:350.00px;top:107.75px;font-size:7.5px;font-weight:700;color:#e6e8ea;transform:scaleX(0.972);">135-Llt</span>
<span class="t" id="t13" style="left:361.40px;top:131.65px;font-size:6.5px;font-weight:700;color:#c9cdd1;-webkit-text-stroke:.3px;transform:scaleX(0.868);">111</span>
<span class="t" id="t14" style="left:361.40px;top:155.55px;font-size:6.5px;font-weight:700;color:#c9cdd1;-webkit-text-stroke:.3px;transform:scaleX(0.810);">121</span>
<span class="t" id="t15" style="left:361.40px;top:178.75px;font-size:6.5px;font-weight:700;color:#c9cdd1;-webkit-text-stroke:.3px;transform:scaleX(0.810);">131</span>
<span class="t" id="t16" style="left:365.50px;top:200.75px;font-size:6.5px;font-weight:700;color:#c9cdd1;-webkit-text-stroke:.3px;transform:scaleX(0.966);">1</span>
<span class="t" id="t17" style="left:382.05px;top:213.25px;font-size:6.5px;font-weight:700;color:#c3c7cc;-webkit-text-stroke:.3px;transform:scaleX(1.076);">0</span>
<span class="t" id="t18" style="left:402.60px;top:213.25px;font-size:6.5px;font-weight:700;color:#c3c7cc;-webkit-text-stroke:.3px;transform:scaleX(0.940);">83</span>
<span class="t" id="t19" style="left:423.50px;top:213.25px;font-size:6.5px;font-weight:700;color:#c3c7cc;-webkit-text-stroke:.3px;transform:scaleX(0.862);">1.8</span>
<span class="t" id="t20" style="left:446.10px;top:213.25px;font-size:6.5px;font-weight:700;color:#c3c7cc;-webkit-text-stroke:.3px;transform:scaleX(0.862);">3.8</span>
<span class="t" id="t21" style="left:467.80px;top:213.25px;font-size:6.5px;font-weight:700;color:#c3c7cc;-webkit-text-stroke:.3px;transform:scaleX(0.862);">7.9</span>
<span class="t" id="t22" style="left:489.15px;top:213.25px;font-size:6.5px;font-weight:700;color:#c3c7cc;-webkit-text-stroke:.3px;transform:scaleX(0.893);">188</span>
<span class="t" id="t23" style="left:513.45px;top:213.25px;font-size:6.5px;font-weight:700;color:#c3c7cc;-webkit-text-stroke:.3px;transform:scaleX(0.893);">101</span>
<span class="t" id="t24" style="left:535.10px;top:213.25px;font-size:6.5px;font-weight:700;color:#c3c7cc;-webkit-text-stroke:.3px;transform:scaleX(0.862);">3.1</span>
<span class="t" id="t25" style="left:557.10px;top:213.25px;font-size:6.5px;font-weight:700;color:#c3c7cc;-webkit-text-stroke:.3px;transform:scaleX(0.862);">8.8</span>
<span class="t" id="t26" style="left:577.10px;top:213.25px;font-size:6.5px;font-weight:700;color:#c3c7cc;-webkit-text-stroke:.3px;transform:scaleX(0.940);">22</span>
<span class="t" id="t27" style="left:597.40px;top:213.25px;font-size:6.5px;font-weight:700;color:#c3c7cc;-webkit-text-stroke:.3px;transform:scaleX(0.940);">34</span>
<span class="t" id="t28" style="left:615.85px;top:213.25px;font-size:6.5px;font-weight:700;color:#c3c7cc;-webkit-text-stroke:.3px;transform:scaleX(0.924);">119</span>
<span class="t" id="t29" style="left:636.85px;top:213.25px;font-size:6.5px;font-weight:700;color:#c3c7cc;-webkit-text-stroke:.3px;transform:scaleX(0.893);">141</span>
<span class="t" id="t30" style="left:691.30px;top:88.80px;font-size:7.6px;font-weight:700;color:#e6e8ea;transform:scaleX(0.873);">MAANT FANONSRSONONS</span>
<span class="t" id="t31" style="left:734.00px;top:113.40px;font-size:6.2px;font-weight:400;color:#858a91;transform:scaleX(1.040);">Knas Laoes</span>
<span class="t" id="t32" style="left:722.30px;top:128.50px;font-size:6.2px;font-weight:400;color:#858a91;transform:scaleX(1.186);">Lee coos toes</span>
<span class="t" id="t33" style="left:914.00px;top:117.50px;font-size:7px;font-weight:700;color:#c3c7cc;-webkit-text-stroke:.3px;transform:scaleX(0.793);">KOOOSAR</span>
<span class="t" id="t34" style="left:914.00px;top:134.90px;font-size:7px;font-weight:700;color:#c3c7cc;-webkit-text-stroke:.3px;transform:scaleX(0.893);">GPAOSNOUVT</span>
<span class="t" id="t35" style="left:914.00px;top:151.50px;font-size:7px;font-weight:700;color:#c3c7cc;-webkit-text-stroke:.3px;transform:scaleX(0.752);">BOONRACE</span>
<span class="t" id="t36" style="left:914.00px;top:168.50px;font-size:7px;font-weight:700;color:#c3c7cc;-webkit-text-stroke:.3px;transform:scaleX(0.828);">KNEONRAST</span>
<span class="t" id="t37" style="left:916.00px;top:186.10px;font-size:7px;font-weight:700;color:#c3c7cc;-webkit-text-stroke:.3px;transform:scaleX(0.768);">PAASAS</span>
<span class="t" id="t38" style="left:916.50px;top:202.50px;font-size:7px;font-weight:700;color:#c3c7cc;-webkit-text-stroke:.3px;transform:scaleX(0.799);">VINUS</span>
<span class="t" id="t39" style="left:916.00px;top:219.50px;font-size:7px;font-weight:700;color:#c3c7cc;-webkit-text-stroke:.3px;transform:scaleX(0.925);">ANN RNNPNESN</span>
<span class="t" id="t40" style="left:16.40px;top:283.40px;font-size:7.6px;font-weight:700;color:#e6e8ea;transform:scaleX(0.967);">ENT OAEAN  RAVAEOESAEER</span>
<span class="t" id="t41" style="left:27.90px;top:321.95px;font-size:6.5px;font-weight:700;color:#c3c7cc;-webkit-text-stroke:.3px;transform:scaleX(1.013);">285</span>
<span class="t" id="t42" style="left:28.50px;top:347.85px;font-size:6.5px;font-weight:700;color:#c3c7cc;-webkit-text-stroke:.3px;transform:scaleX(0.958);">135</span>
<span class="t" id="t43" style="left:29.80px;top:373.45px;font-size:6.5px;font-weight:700;color:#c3c7cc;-webkit-text-stroke:.3px;transform:scaleX(0.838);">195</span>
<span class="t" id="t44" style="left:33.00px;top:397.05px;font-size:6.5px;font-weight:700;color:#c3c7cc;-webkit-text-stroke:.3px;transform:scaleX(0.966);">0</span>
<span class="t" id="t45" style="left:46.40px;top:409.60px;font-size:6px;font-weight:700;color:#979ba1;-webkit-text-stroke:.3px;transform:scaleX(1.107);">Nipzr</span>
<span class="t" id="t46" style="left:72.80px;top:409.60px;font-size:6px;font-weight:700;color:#979ba1;-webkit-text-stroke:.3px;transform:scaleX(1.082);">Tlkac</span>
<span class="t" id="t47" style="left:99.50px;top:409.60px;font-size:6px;font-weight:700;color:#979ba1;-webkit-text-stroke:.3px;transform:scaleX(1.131);">Bpac</span>
<span class="t" id="t48" style="left:123.90px;top:409.60px;font-size:6px;font-weight:700;color:#979ba1;-webkit-text-stroke:.3px;transform:scaleX(0.976);">Hapar</span>
<span class="t" id="t49" style="left:150.90px;top:409.60px;font-size:6px;font-weight:700;color:#979ba1;-webkit-text-stroke:.3px;transform:scaleX(1.059);">Ribpr</span>
<span class="t" id="t50" style="left:177.30px;top:409.60px;font-size:6px;font-weight:700;color:#979ba1;-webkit-text-stroke:.3px;transform:scaleX(0.921);">Saupa</span>
<span class="t" id="t51" style="left:203.30px;top:409.60px;font-size:6px;font-weight:700;color:#979ba1;-webkit-text-stroke:.3px;transform:scaleX(1.036);">Srbzz</span>
<span class="t" id="t52" style="left:228.50px;top:409.60px;font-size:6px;font-weight:700;color:#979ba1;-webkit-text-stroke:.3px;transform:scaleX(1.166);">Tiaar</span>
<span class="t" id="t53" style="left:255.20px;top:409.60px;font-size:6px;font-weight:700;color:#979ba1;-webkit-text-stroke:.3px;transform:scaleX(0.976);">Ribpn</span>
<span class="t" id="t54" style="left:282.40px;top:409.60px;font-size:6px;font-weight:700;color:#979ba1;-webkit-text-stroke:.3px;transform:scaleX(0.945);">Tangn</span>
<span class="t" id="t55" style="left:351.30px;top:283.30px;font-size:7.6px;font-weight:700;color:#e6e8ea;transform:scaleX(0.990);">BML S.RENSAT.THEESEED</span>
<span class="t" id="t56" style="left:361.40px;top:306.55px;font-size:6.5px;font-weight:400;color:#b4b8be;transform:scaleX(0.902);">N.U</span>
<span class="t" id="t57" style="left:363.00px;top:338.05px;font-size:6.5px;font-weight:700;color:#c3c7cc;-webkit-text-stroke:.3px;transform:scaleX(0.829);">1i2</span>
<span class="t" id="t58" style="left:363.50px;top:368.05px;font-size:6.5px;font-weight:700;color:#c3c7cc;-webkit-text-stroke:.3px;transform:scaleX(0.727);">11</span>
<span class="t" id="t59" style="left:364.00px;top:398.25px;font-size:6.5px;font-weight:400;color:#c3c7cc;transform:scaleX(0.806);">V</span>
<span class="t" id="t60" style="left:374.70px;top:408.35px;font-size:6.5px;font-weight:400;color:#b4b8be;transform:scaleX(0.885);">t5au</span>
<span class="t" id="t61" style="left:402.50px;top:408.35px;font-size:6.5px;font-weight:400;color:#b4b8be;transform:scaleX(0.774);">h18</span>
<span class="t" id="t62" style="left:426.80px;top:408.35px;font-size:6.5px;font-weight:400;color:#b4b8be;transform:scaleX(0.756);">tUU8</span>
<span class="t" id="t63" style="left:455.20px;top:408.35px;font-size:6.5px;font-weight:400;color:#b4b8be;transform:scaleX(0.704);">8U8</span>
<span class="t" id="t64" style="left:481.40px;top:408.35px;font-size:6.5px;font-weight:400;color:#b4b8be;transform:scaleX(0.774);">8a1</span>
<span class="t" id="t65" style="left:504.90px;top:408.35px;font-size:6.5px;font-weight:400;color:#b4b8be;transform:scaleX(0.774);">1308</span>
<span class="t" id="t66" style="left:530.90px;top:408.35px;font-size:6.5px;font-weight:400;color:#b4b8be;transform:scaleX(1.068);">ILLl</span>
<span class="t" id="t67" style="left:557.10px;top:408.35px;font-size:6.5px;font-weight:400;color:#b4b8be;transform:scaleX(0.885);">t002</span>
<span class="t" id="t68" style="left:584.40px;top:408.35px;font-size:6.5px;font-weight:400;color:#b4b8be;transform:scaleX(0.726);">7A1</span>
<span class="t" id="t69" style="left:614.20px;top:408.35px;font-size:6.5px;font-weight:400;color:#b4b8be;transform:scaleX(0.683);">8AA</span>
<span class="t" id="t70" style="left:636.70px;top:408.35px;font-size:6.5px;font-weight:400;color:#b4b8be;transform:scaleX(0.737);">200Y</span>
<span class="t" id="t71" style="left:691.30px;top:283.80px;font-size:7.6px;font-weight:700;color:#e6e8ea;transform:scaleX(0.926);">AAR X</span>
<span class="t" id="t72" style="left:698.00px;top:301.55px;font-size:6.5px;font-weight:700;color:#b4b8be;-webkit-text-stroke:.3px;transform:scaleX(0.864);">WBGR</span>
<span class="t" id="t73" style="left:703.70px;top:322.65px;font-size:6.5px;font-weight:700;color:#b4b8be;-webkit-text-stroke:.3px;transform:scaleX(0.859);">GRX</span>
<span class="t" id="t74" style="left:703.70px;top:344.05px;font-size:6.5px;font-weight:700;color:#b4b8be;-webkit-text-stroke:.3px;transform:scaleX(0.859);">GKX</span>
<span class="t" id="t75" style="left:704.50px;top:364.95px;font-size:6.5px;font-weight:700;color:#b4b8be;-webkit-text-stroke:.3px;transform:scaleX(0.782);">RCG</span>
<span class="t" id="t76" style="left:712.00px;top:385.85px;font-size:6.5px;font-weight:700;color:#b4b8be;-webkit-text-stroke:.3px;transform:scaleX(0.850);">K</span>
<span class="t" id="t77" style="left:731.85px;top:397.25px;font-size:6.5px;font-weight:400;color:#b4b8be;transform:scaleX(0.789);">3.J0</span>
<span class="t" id="t78" style="left:760.05px;top:397.25px;font-size:6.5px;font-weight:400;color:#b4b8be;transform:scaleX(0.707);">3AA</span>
<span class="t" id="t79" style="left:789.20px;top:397.25px;font-size:6.5px;font-weight:400;color:#b4b8be;transform:scaleX(0.784);">8.J</span>
<span class="t" id="t80" style="left:814.95px;top:397.25px;font-size:6.5px;font-weight:400;color:#b4b8be;transform:scaleX(0.707);">bAA</span>
<span class="t" id="t81" style="left:842.15px;top:397.25px;font-size:6.5px;font-weight:400;color:#b4b8be;transform:scaleX(0.789);">9.J4</span>
<span class="t" id="t82" style="left:869.65px;top:397.25px;font-size:6.5px;font-weight:400;color:#b4b8be;transform:scaleX(0.958);">5.Jl</span>
<span class="t" id="t83" style="left:897.35px;top:397.25px;font-size:6.5px;font-weight:400;color:#b4b8be;transform:scaleX(1.265);">tl0</span>
<span class="t" id="t84" style="left:924.55px;top:397.25px;font-size:6.5px;font-weight:400;color:#b4b8be;transform:scaleX(0.707);">8AB</span>
<span class="t" id="t85" style="left:952.60px;top:397.25px;font-size:6.5px;font-weight:400;color:#b4b8be;transform:scaleX(0.784);">8.J</span>
<span class="t" id="t86" style="left:979.65px;top:397.25px;font-size:6.5px;font-weight:400;color:#b4b8be;transform:scaleX(0.777);">bAJ</span>
<span class="t" id="t87" style="left:18.90px;top:481.25px;font-size:7.5px;font-weight:700;color:#e6e8ea;transform:scaleX(0.916);">NVS BNE R.TIMN</span>
<span class="t" id="t88" style="left:82.50px;top:481.25px;font-size:7.5px;font-weight:700;color:#cfd2d6;transform:scaleX(0.895);">SOUBEG</span>
<span class="t" id="t89" style="left:211.50px;top:482.00px;font-size:7px;font-weight:400;color:#8b9097;transform:scaleX(1.027);">LI</span>
<span class="t" id="t90" style="left:194.50px;top:500.70px;font-size:8px;font-weight:700;color:#e3c2b4;transform:scaleX(0.801);">18 13.5</span>
<span class="t" id="t91" style="left:195.50px;top:520.10px;font-size:8px;font-weight:700;color:#dcdad4;transform:scaleX(0.917);">84 IJ1</span>
<span class="t" id="t92" style="left:195.50px;top:540.80px;font-size:8px;font-weight:700;color:#6fdc8c;transform:scaleX(0.865);">50 R.5</span>
<span class="t" id="t93" style="left:195.50px;top:561.20px;font-size:8px;font-weight:700;color:#6fdc8c;transform:scaleX(0.899);">F4 8.5</span>
<span class="t" id="t94" style="left:195.50px;top:582.60px;font-size:8px;font-weight:700;color:#6fdc8c;transform:scaleX(0.949);">F8 A6</span>
<span class="t" id="t95" style="left:195.50px;top:604.50px;font-size:8px;font-weight:700;color:#e3c2b4;transform:scaleX(0.899);">18 PG</span>
<span class="t" id="t96" style="left:110.00px;top:541.30px;font-size:7px;font-weight:700;color:#b9bdc2;-webkit-text-stroke:.3px;transform:scaleX(0.902);">HE EOUL FNANAUON</span>
<span class="t" id="t97" style="left:111.00px;top:561.70px;font-size:7px;font-weight:700;color:#b9bdc2;-webkit-text-stroke:.3px;transform:scaleX(0.872);">ER GBNN VFSSUV DR</span>
<span class="t" id="t98" style="left:119.50px;top:583.10px;font-size:7px;font-weight:700;color:#b9bdc2;-webkit-text-stroke:.3px;transform:scaleX(0.749);">K FOUEL NATN. NRER</span>
<span class="t" id="t99" style="left:131.50px;top:605.00px;font-size:7px;font-weight:700;color:#b9bdc2;-webkit-text-stroke:.3px;transform:scaleX(0.721);">PLLAOOEDS LEIN</span>
<span class="t" id="t100" style="left:241.00px;top:481.25px;font-size:7.5px;font-weight:700;color:#e6e8ea;transform:scaleX(0.939);">DRBUI LMURC BAHN</span>
<span class="t" id="t101" style="left:323.00px;top:481.25px;font-size:7.5px;font-weight:700;color:#e6e8ea;">S</span>
<span class="t" id="t102" style="left:332.50px;top:481.25px;font-size:7.5px;font-weight:700;color:#cfd2d6;transform:scaleX(0.925);">SUEFOVNINBR</span>
<span class="t" id="t103" style="left:552.30px;top:480.55px;font-size:6.5px;font-weight:700;color:#62d48a;-webkit-text-stroke:.3px;transform:scaleX(0.892);">ROCDROTY</span>
<span class="t" id="t104" style="left:562.00px;top:500.70px;font-size:8px;font-weight:700;color:#dcdad4;transform:scaleX(0.872);">1U 7aa</span>
<span class="t" id="t105" style="left:562.00px;top:520.10px;font-size:8px;font-weight:700;color:#dcdad4;transform:scaleX(1.011);">1J a8.</span>
<span class="t" id="t106" style="left:566.00px;top:540.80px;font-size:8px;font-weight:700;color:#6fdc8c;transform:scaleX(0.924);">5’ll8 .</span>
<span class="t" id="t107" style="left:562.00px;top:561.20px;font-size:8px;font-weight:700;color:#dcdad4;transform:scaleX(1.124);">I5 3l5</span>
<span class="t" id="t108" style="left:562.00px;top:582.60px;font-size:8px;font-weight:700;color:#6fdc8c;transform:scaleX(0.954);">b6 J8r</span>
<span class="t" id="t109" style="left:562.00px;top:604.50px;font-size:8px;font-weight:400;color:#e0988a;transform:scaleX(1.176);">IS /Pl</span>
<span class="t" id="t110" style="left:514.00px;top:541.30px;font-size:7px;font-weight:400;color:#aeb2b8;transform:scaleX(1.050);">ED NAar</span>
<span class="t" id="t111" style="left:494.50px;top:561.70px;font-size:7px;font-weight:400;color:#aeb2b8;transform:scaleX(1.066);">NG1 KaN.JOB</span>
<span class="t" id="t112" style="left:500.50px;top:583.10px;font-size:7px;font-weight:400;color:#aeb2b8;transform:scaleX(1.071);">Ab ok.Dvfoty</span>
<span class="t" id="t113" style="left:469.50px;top:605.00px;font-size:7px;font-weight:400;color:#aeb2b8;transform:scaleX(0.989);">LLt-oooso N.oooaro kkk</span>
<span class="t" id="t114" style="left:611.50px;top:481.45px;font-size:7.5px;font-weight:700;color:#e6e8ea;transform:scaleX(0.920);">DAJ BALRLIS LANIJN</span>
<span class="t" id="t115" style="left:688.00px;top:482.50px;font-size:7px;font-weight:400;color:#8b9097;transform:scaleX(1.028);">..</span>
<span class="t" id="t116" style="left:697.50px;top:481.45px;font-size:7.5px;font-weight:700;color:#e6e8ea;transform:scaleX(0.959);">5</span>
<span class="t" id="t117" style="left:705.00px;top:481.45px;font-size:7.5px;font-weight:700;color:#cfd2d6;transform:scaleX(0.919);">ANRNS</span>
<span class="t" id="t118" style="left:798.50px;top:482.00px;font-size:7px;font-weight:700;color:#e6e8ea;-webkit-text-stroke:.3px;transform:scaleX(0.896);">8</span>
<span class="t" id="t119" style="left:814.00px;top:481.85px;font-size:7.5px;font-weight:700;color:#e6e8ea;transform:scaleX(1.091);">SNE  XALEB RAMAKIN</span>
<span class="t" id="t120" style="left:814.60px;top:500.00px;font-size:7px;font-weight:700;color:#b9bdc2;-webkit-text-stroke:.3px;transform:scaleX(1.212);">ST: 11t</span>
<span class="t" id="t121" style="left:814.60px;top:519.40px;font-size:7px;font-weight:700;color:#b9bdc2;-webkit-text-stroke:.3px;transform:scaleX(1.172);">SK NLI</span>
<span class="t" id="t122" style="left:824.70px;top:542.00px;font-size:7px;font-weight:700;color:#b9bdc2;-webkit-text-stroke:.3px;transform:scaleX(0.847);">SAAB</span>
<span class="t" id="t123" style="left:821.40px;top:566.20px;font-size:7px;font-weight:700;color:#b9bdc2;-webkit-text-stroke:.3px;transform:scaleX(1.036);">TAKK</span>
<span class="t" id="t124" style="left:841.50px;top:614.55px;font-size:6.5px;font-weight:700;color:#b9bdc2;-webkit-text-stroke:.3px;transform:scaleX(0.966);">8</span>
<span class="t" id="t125" style="left:889.40px;top:614.55px;font-size:6.5px;font-weight:700;color:#b9bdc2;-webkit-text-stroke:.3px;transform:scaleX(0.961);">BIIKIV</span>
<span class="t" id="t126" style="left:948.00px;top:614.55px;font-size:6.5px;font-weight:700;color:#b9bdc2;-webkit-text-stroke:.3px;transform:scaleX(0.803);">ICC</span>
<span class="t" id="t127" style="left:1001.00px;top:614.55px;font-size:6.5px;font-weight:700;color:#b9bdc2;-webkit-text-stroke:.3px;transform:scaleX(0.691);">ILE</span>
</div>
</div></div></div>
</body></html>
